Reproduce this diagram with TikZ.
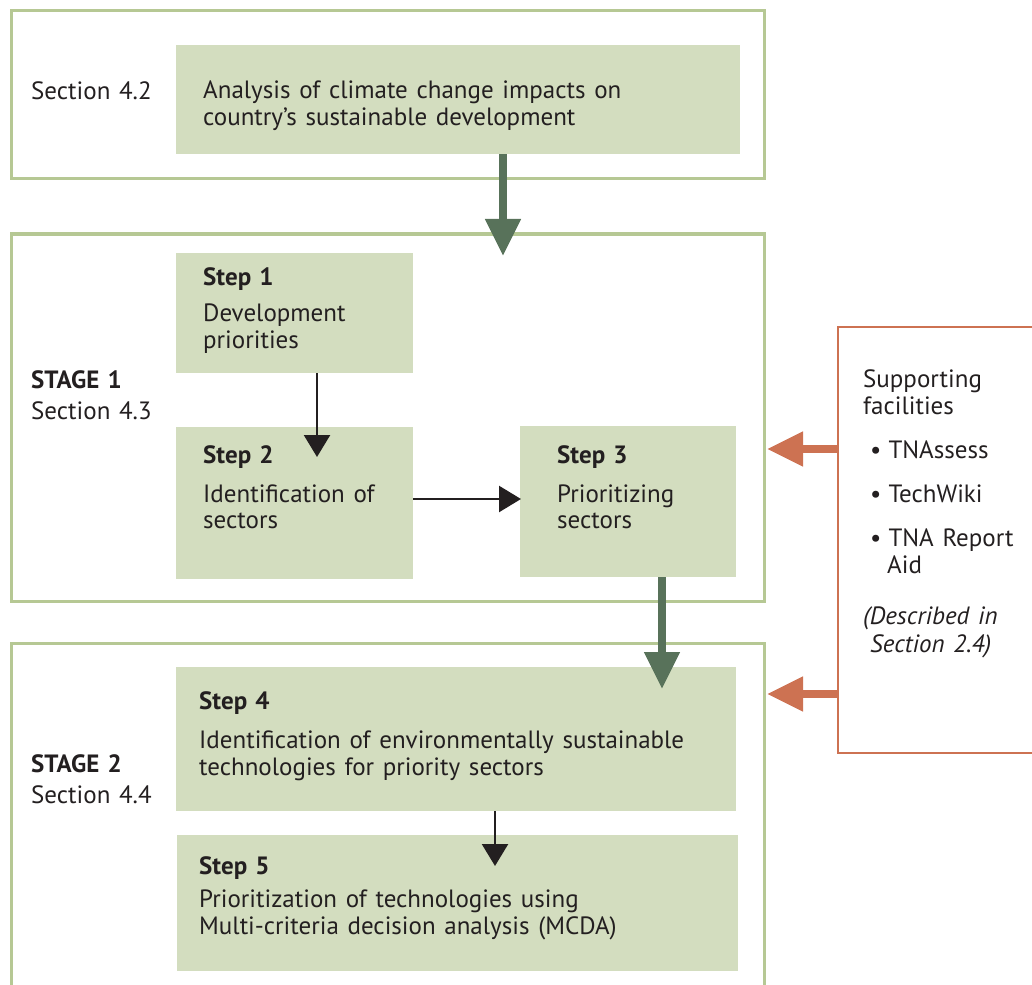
\documentclass[tikz,border=0pt]{standalone}
\usepackage{fontspec}
\setmainfont{PT Sans}[WordSpace=1.3]
\usetikzlibrary{arrows.meta}
\definecolor{frameGreen}{HTML}{B6C894}
\definecolor{boxFill}{HTML}{D3DDBF}
\definecolor{flowGreen}{HTML}{58725A}
\definecolor{supportOrange}{HTML}{CD7252}
\definecolor{ink}{HTML}{231F20}
\tikzset{
  frame/.style={draw=frameGreen, line width=3pt},
  supframe/.style={draw=supportOrange, line width=2.8pt},
  stepbox/.style={fill=boxFill, draw=none},
  txt/.style={anchor=base west, inner sep=0pt, text=ink, font=\fontsize{25}{27}\selectfont},
  bigflow/.style={draw=flowGreen, line width=8pt,
    -{Triangle[width=34pt,length=37pt,fill=flowGreen]}},
  supflow/.style={draw=supportOrange, line width=8pt,
    -{Triangle[width=33pt,length=36pt,fill=supportOrange]}},
  thinflow/.style={draw=ink, line width=2.4pt,
    -{Triangle[width=26pt,length=22pt,fill=ink]}},
}
\begin{document}
\begin{tikzpicture}[x=1pt,y=-1pt]
\useasboundingbox (0,0) rectangle (1032,984);

% outer frames
\path[frame] (11,11) rectangle (764,179);
\path[frame] (11,234) rectangle (764,601);
\path[frame] (11,1010) -- (11,643) -- (764,643) -- (764,1010);
\path[supframe] (1045,327) -- (838,327) -- (838,753) -- (1045,753);
\coordinate (supL1) at (838,449);
\coordinate (supL2) at (838,694);

% step boxes
\path[stepbox] (176,45) rectangle (740,154);
\node[inner sep=0pt, minimum width=564pt, minimum height=109pt] (analysis) at (458,99.5) {};
\path[stepbox] (176,253) rectangle (413,373);
\node[inner sep=0pt, minimum width=237pt, minimum height=120pt] (step1) at (294.5,313) {};
\path[stepbox] (176,427) rectangle (413,579);
\node[inner sep=0pt, minimum width=237pt, minimum height=152pt] (step2) at (294.5,503) {};
\path[stepbox] (520,426) rectangle (736,577);
\node[inner sep=0pt, minimum width=216pt, minimum height=151pt] (step3) at (628,501.5) {};
\path[stepbox] (176,667) rectangle (736,811);
\node[inner sep=0pt, minimum width=560pt, minimum height=144pt] (step4) at (456,739) {};
\path[stepbox] (177,835) rectangle (738,971);
\node[inner sep=0pt, minimum width=561pt, minimum height=136pt] (step5) at (457.5,903) {};

% section labels
\node[txt] (s42) at (31,100) {Section 4.2};
\node[txt] (st1) at (31,388) {\bfseries STAGE 1};
\node[txt] (s43) at (31,419) {Section 4.3};
\node[txt] (st2) at (31,772) {\bfseries STAGE 2};
\node[txt] (s44) at (31,803) {Section 4.4};

% box texts
\node[txt] (a1) at (203,99) {Analysis of climate change impacts on};
\node[txt] (a2) at (203,126) {country’s sustainable development};

\node[txt] (t1a) at (203,285) {\bfseries Step 1};
\node[txt] (t1b) at (203,321) {Development};
\node[txt] (t1c) at (203,348) {priorities};

\node[txt] (t2a) at (203,463) {\bfseries Step 2};
\node[txt] (t2b) at (203,502) {Identification of};
\node[txt] (t2c) at (203,528) {sectors};

\node[txt] (t3a) at (557,463) {\bfseries Step 3};
\node[txt] (t3b) at (557,502) {Prioritizing};
\node[txt] (t3c) at (557,528) {sectors};

\node[txt] (t4a) at (199,709) {\bfseries Step 4};
\node[txt] (t4b) at (199,748) {Identification of environmentally sustainable};
\node[txt] (t4c) at (199,775) {technologies for priority sectors};

\node[txt] (t5a) at (199,874) {\bfseries Step 5};
\node[txt] (t5b) at (199,907) {Prioritization of technologies using};
\node[txt] (t5c) at (199,934) {Multi-criteria decision analysis (MCDA)};

% supporting facilities
\node[txt] (u1) at (863,387) {Supporting};
\node[txt] (u2) at (863,414) {facilities};
\node[txt] (u3) at (870,458) {•\hspace{7pt}TNAssess};
\node[txt] (u4) at (870,502) {•\hspace{7pt}TechWiki};
\node[txt] (u5) at (870,546) {•\hspace{7pt}TNA Report};
\node[txt] (u6) at (887,573) {Aid};
\node[txt] (u7) at (863,624) {\itshape (Described in};
\node[txt] (u8) at (870,652) {\itshape Section 2.4)};

% connectors
\coordinate (tipA) at (503,256);
\coordinate (tipB) at (662,689);
\draw[bigflow] (analysis.south -| tipA) -- (tipA);
\draw[bigflow] (step3.south -| tipB) -- (tipB);

\coordinate (tip12) at (317,457);
\draw[thinflow] (step1.south -| tip12) -- (tip12);
\coordinate (tip23) at (521,499);
\draw[thinflow] (step2.east |- tip23) -- (tip23);
\coordinate (tip45) at (495,866);
\draw[thinflow] (step4.south -| tip45) -- (tip45);

\coordinate (tipS1) at (767,449);
\coordinate (tipS2) at (767,694);
\draw[supflow] (supL1) -- (tipS1);
\draw[supflow] (supL2) -- (tipS2);
\end{tikzpicture}
\end{document}
